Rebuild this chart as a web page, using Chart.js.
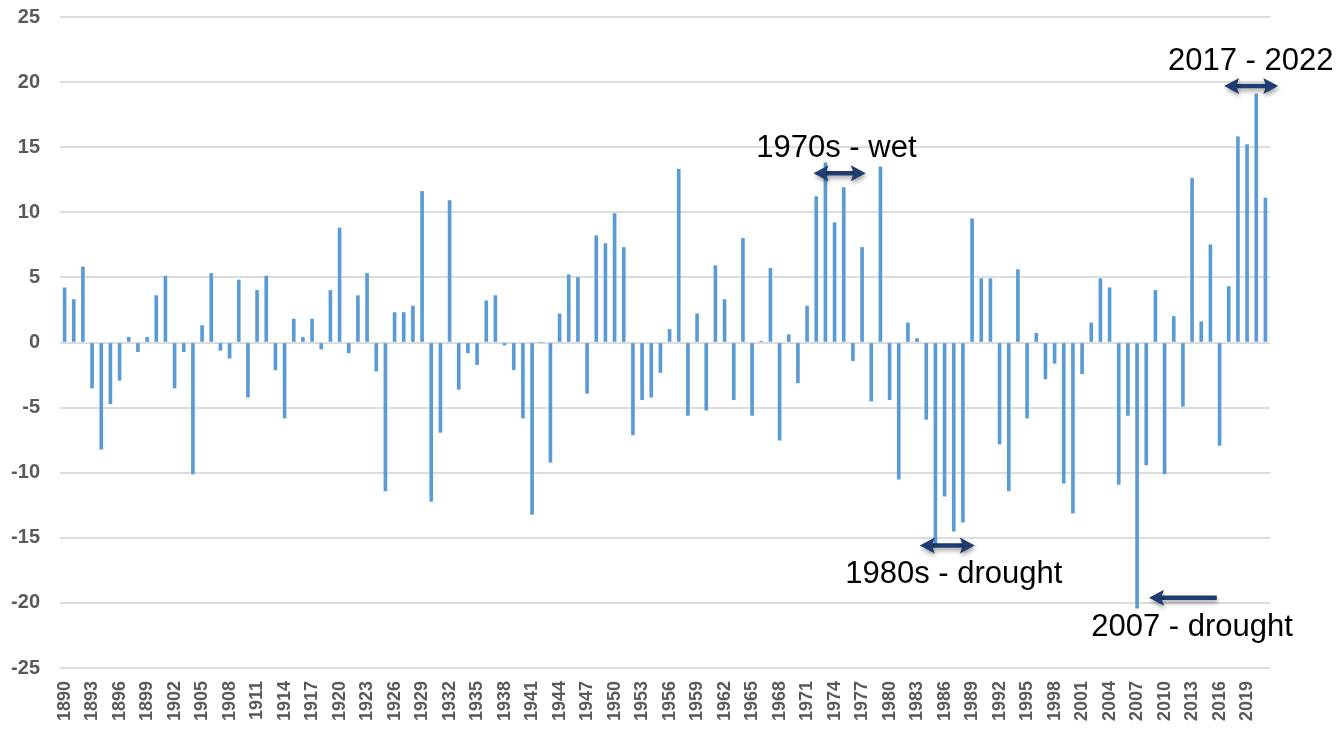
<!DOCTYPE html>
<html>
<head>
<meta charset="utf-8">
<script src="https://cdn.jsdelivr.net/npm/chart.js@4/dist/chart.umd.min.js"></script>
<style>
  html, body { margin: 0; padding: 0; background: #ffffff; }
  #wrap { width: 1341px; height: 729px; position: relative; }
</style>
</head>
<body>
<div id="wrap"><canvas id="c"></canvas></div>
<script>
// ---- Data ----
const firstYear = 1890;
const lastYear = 2021;
const years = Array.from({length: lastYear - firstYear + 1}, (_, i) => String(firstYear + i));

const values = [
  4.2, 3.3, 5.8, -3.5, -8.2, -4.7, -2.9, 0.4, -0.7, 0.4,      // 1890-1899
  3.6, 5.1, -3.5, -0.7, -10.1, 1.3, 5.3, -0.6, -1.2, 4.8,     // 1900-1909
  -4.2, 4.0, 5.1, -2.1, -5.8, 1.8, 0.4, 1.8, -0.5, 4.0,       // 1910-1919
  8.8, -0.8, 3.6, 5.3, -2.2, -11.4, 2.3, 2.3, 2.8, 11.6,      // 1920-1929
  -12.2, -6.9, 10.9, -3.6, -0.8, -1.7, 3.2, 3.6, -0.2, -2.1,  // 1930-1939
  -5.8, -13.2, 0, -9.2, 2.2, 5.2, 5.0, -3.9, 8.2, 7.6,        // 1940-1949
  9.9, 7.3, -7.1, -4.4, -4.2, -2.3, 1.0, 13.3, -5.6, 2.2,     // 1950-1959
  -5.2, 5.9, 3.3, -4.4, 8.0, -5.6, 0.1, 5.7, -7.5, 0.6,       // 1960-1969
  -3.1, 2.8, 11.2, 13.8, 9.2, 11.9, -1.4, 7.3, -4.5, 13.5,    // 1970-1979
  -4.4, -10.5, 1.5, 0.3, -5.9, -15.6, -11.8, -14.5, -13.8, 9.5, // 1980-1989
  4.9, 4.9, -7.8, -11.4, 5.6, -5.8, 0.7, -2.8, -1.6, -10.8,   // 1990-1999
  -13.1, -2.4, 1.5, 4.9, 4.2, -10.9, -5.6, -20.4, -9.4, 4.0,  // 2000-2009
  -10.1, 2.0, -4.9, 12.6, 1.6, 7.5, -7.9, 4.3, 15.8, 15.2,    // 2010-2019
  19.1, 11.1                                                  // 2020-2021
];

const yMin = -25;
const yMax = 25;
const yStep = 5;
const labelEvery = 3;

// Annotations (positions in data units: year, value)
const notes = [
  { text: '1970s - wet',     tx: 1974.2, ty: 14.9,  from: 1971.7, to: 1977.4, ay: 13.0,  both: true },
  { text: '2017 - 2022',     tx: 2019.4, ty: 21.6,  from: 2016.5, to: 2022.4, ay: 19.7,  both: true },
  { text: '1980s - drought', tx: 1987.0, ty: -17.8, from: 1983.3, to: 1989.3, ay: -15.6, both: true },
  { text: '2007 - drought',  tx: 2013.0, ty: -21.9, from: 2015.7, to: 2008.3, ay: -19.6, both: false }
];

const annotationPlugin = {
  id: 'notes',
  afterDatasetsDraw(chart) {
    const ctx = chart.ctx;
    const xs = chart.scales.x, ys = chart.scales.y;
    const px = yr => xs.getPixelForValue(yr - firstYear);
    const py = v => ys.getPixelForValue(v);
    ctx.save();
    notes.forEach(n => {
      const x1 = px(n.from), x2 = px(n.to), y = py(n.ay);
      const dir = Math.sign(x2 - x1);
      const hl = 15, hw = 8;
      ctx.save();
      ctx.shadowColor = 'rgba(0,0,0,0.35)';
      ctx.shadowBlur = 4;
      ctx.shadowOffsetX = 1;
      ctx.shadowOffsetY = 3;
      ctx.fillStyle = '#1f3d70';
      ctx.strokeStyle = '#1f3d70';
      ctx.lineWidth = 4.5;
      ctx.beginPath();
      ctx.moveTo(n.both ? x1 + dir * hl * 0.7 : x1, y);
      ctx.lineTo(x2 - dir * hl * 0.7, y);
      ctx.stroke();
      const head = (tipX, d) => {
        ctx.beginPath();
        ctx.moveTo(tipX, y);
        ctx.lineTo(tipX - d * hl, y - hw);
        ctx.lineTo(tipX - d * hl * 0.8, y);
        ctx.lineTo(tipX - d * hl, y + hw);
        ctx.closePath();
        ctx.fill();
      };
      head(x2, dir);
      if (n.both) head(x1, -dir);
      ctx.restore();
      ctx.fillStyle = '#000000';
      ctx.font = '31px "Liberation Sans", Arial, sans-serif';
      ctx.textAlign = 'center';
      ctx.textBaseline = 'middle';
      ctx.fillText(n.text, px(n.tx), py(n.ty));
    });
    ctx.restore();
  }
};

new Chart(document.getElementById('c'), {
  type: 'bar',
  data: {
    labels: years,
    datasets: [{
      data: values,
      backgroundColor: '#5b9bd5',
      borderWidth: 0,
      barThickness: 3
    }]
  },
  options: {
    responsive: true,
    maintainAspectRatio: false,
    animation: false,
    layout: { padding: { top: 17, right: 71, left: 0, bottom: 0 } },
    plugins: { legend: { display: false }, tooltip: { enabled: false } },
    scales: {
      x: {
        grid: { display: false, drawTicks: false },
        border: { display: false },
        ticks: {
          autoSkip: false,
          minRotation: 90,
          maxRotation: 90,
          padding: 13,
          color: '#595959',
          font: { family: '"Liberation Sans", Arial, sans-serif', size: 18, weight: 'bold' },
          callback: function (val, idx) {
            return (idx % labelEvery === 0) ? this.getLabelForValue(val) : '';
          }
        },
        afterFit: s => { s.height = 61; s.paddingTop = 0; s.paddingBottom = 0; }
      },
      y: {
        min: yMin,
        max: yMax,
        grid: { color: '#dcdcdc', lineWidth: 2, drawTicks: false },
        border: { display: false },
        ticks: {
          stepSize: yStep,
          padding: 20,
          color: '#595959',
          font: { family: '"Liberation Sans", Arial, sans-serif', size: 20, weight: 'bold' }
        },
        afterFit: s => { s.width = 60; s.paddingTop = 0; s.paddingBottom = 0; }
      }
    }
  },
  plugins: [annotationPlugin]
});
</script>
</body>
</html>
